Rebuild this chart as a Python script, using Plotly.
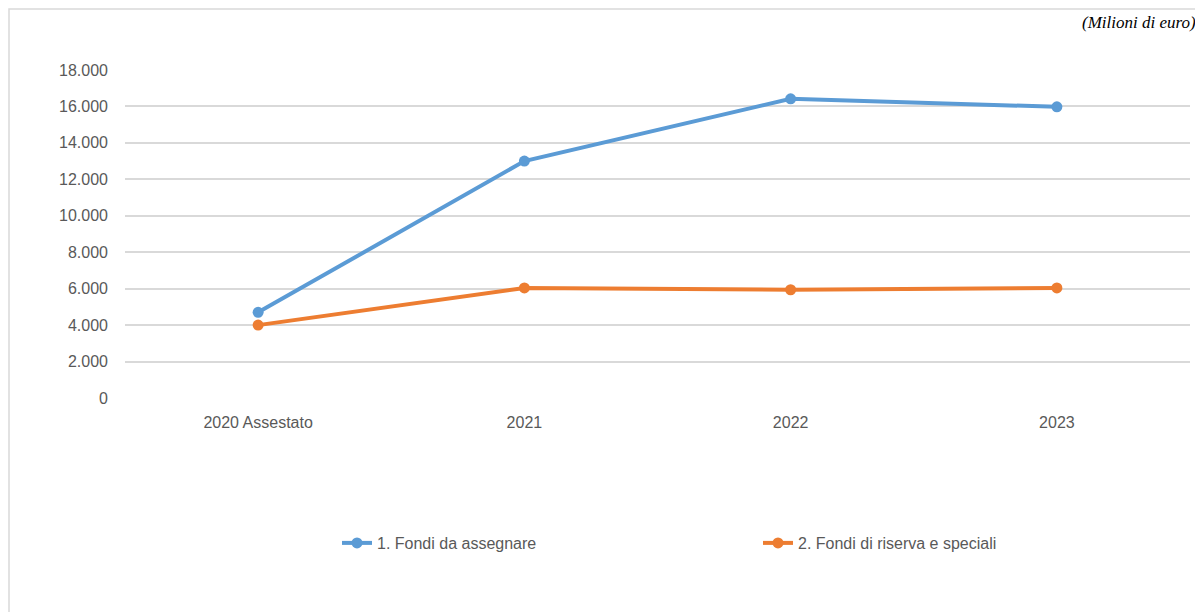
import plotly.graph_objects as go

categories = ["2020 Assestato", "2021", "2022", "2023"]
fondi_assegnare = [4700, 13000, 16420, 15980]
fondi_riserva = [4000, 6040, 5940, 6040]
series_names = ["1. Fondi da assegnare", "2. Fondi di riserva e speciali"]
y_ticks = [0, 2000, 4000, 6000, 8000, 10000, 12000, 14000, 16000, 18000]
unit_label = "(Milioni di euro)"

# page body has an 8px margin
OFF = 8
W, H = 1203 - OFF, 612 - OFF
PL, PR, PT, PB = 125, 1190, 70, 398  # plot area in screen pixels
L, R, T = PL - OFF, W - (PR - OFF), PT - OFF
B = H - (PB - OFF)
pw, ph = PR - PL, PB - PT

def px_x(p):
    return (p - PL) / pw

def px_y(p):
    return (PB - p) / ph

fig = go.Figure()
fig.add_trace(go.Scatter(x=categories, y=fondi_assegnare, name=series_names[0],
                         mode="lines+markers",
                         line=dict(color="#5B9BD5", width=4),
                         marker=dict(size=11, color="#5B9BD5")))
fig.add_trace(go.Scatter(x=categories, y=fondi_riserva, name=series_names[1],
                         mode="lines+markers",
                         line=dict(color="#ED7D31", width=4),
                         marker=dict(size=11, color="#ED7D31")))

fig.update_layout(
    width=W, height=H,
    margin=dict(l=L, r=R, t=T, b=B, pad=0),
    paper_bgcolor="white", plot_bgcolor="white",
    separators=",.",
    font=dict(family="Liberation Sans, Arial, sans-serif", size=16, color="#595959"),
    showlegend=True,
    legend=dict(orientation="h", x=px_x(337), xanchor="left", y=px_y(543), yanchor="middle",
                entrywidth=376, entrywidthmode="pixels",
                font=dict(size=16, color="#595959"), bgcolor="rgba(0,0,0,0)"),
    xaxis=dict(type="category", range=[-0.5, 3.5], showgrid=False, showline=False,
               zeroline=False, ticks="", ticklabelstandoff=13,
               tickfont=dict(size=16, color="#595959")),
    yaxis=dict(range=[0, 18000], tickvals=y_ticks, tickformat=",d", showgrid=True,
               gridcolor="#d9d9d9", gridwidth=1.5, zeroline=False, showline=False,
               ticks="", ticklabelstandoff=16,
               tickfont=dict(size=16, color="#595959")),
    shapes=[dict(type="rect", xref="paper", yref="paper",
                 x0=px_x(9), x1=px_x(1260), y0=px_y(660), y1=px_y(9),
                 line=dict(color="#d9d9d9", width=1.5), fillcolor="rgba(0,0,0,0)",
                 layer="below")],
    annotations=[dict(text=unit_label, xref="paper", yref="paper",
                      x=px_x(1198), xanchor="right", y=px_y(11), yanchor="top",
                      showarrow=False,
                      font=dict(family="Liberation Serif, Times New Roman, serif",
                                size=17, color="#000000", style="italic"))],
)

fig.write_html("out.html")
